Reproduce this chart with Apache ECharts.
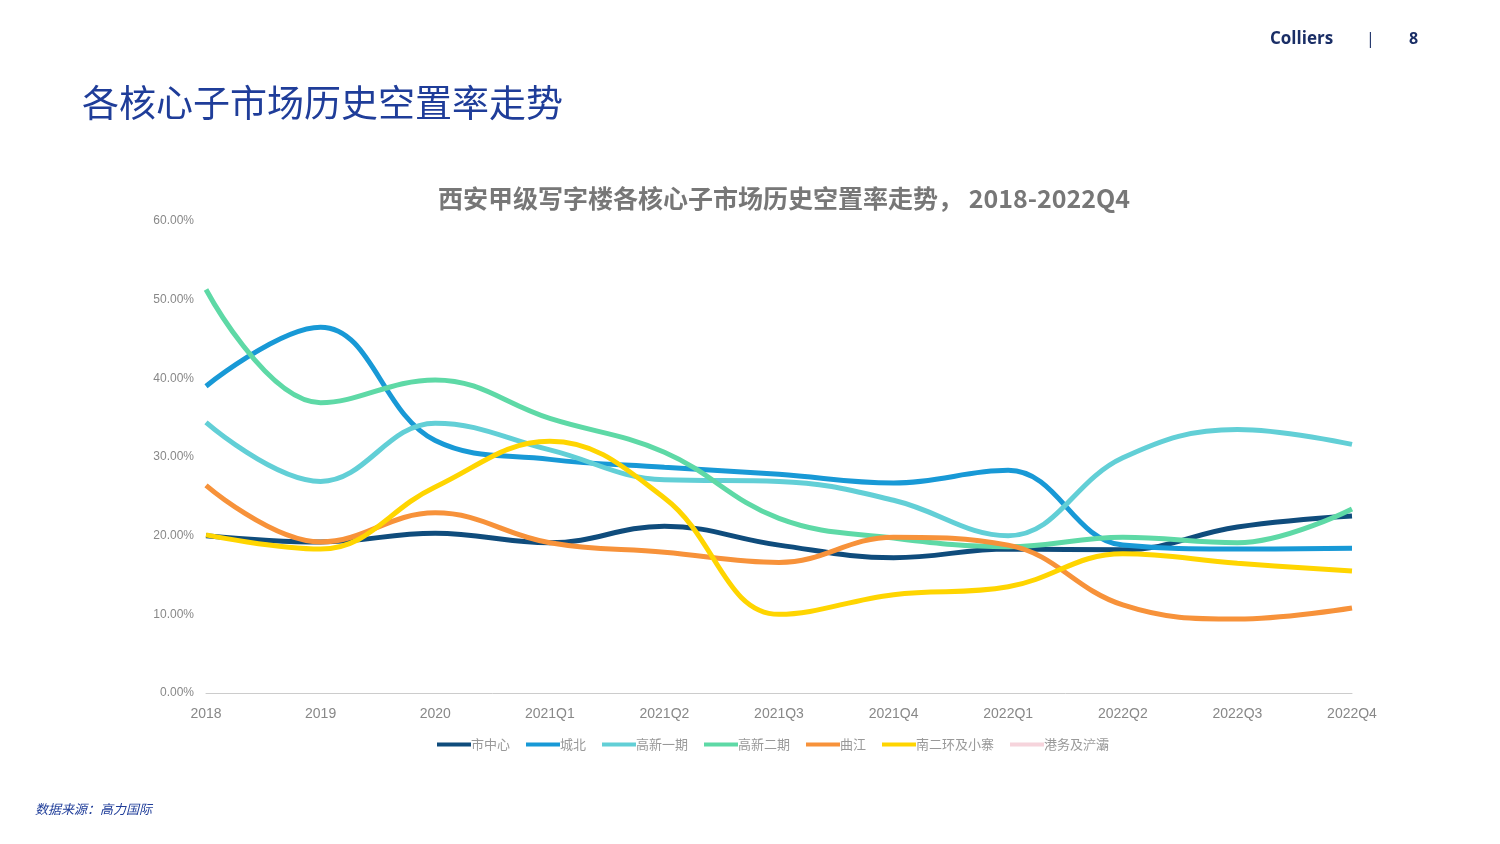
<!DOCTYPE html>
<html><head><meta charset="utf-8">
<script src="https://cdn.jsdelivr.net/npm/echarts@6/dist/echarts.min.js"></script>
<style>body{margin:0;background:#fff}#c{width:1500px;height:844px}</style></head>
<body><div id="c"></div>
<script>
const categories=['2018','2019','2020','2021Q1','2021Q2','2021Q3','2021Q4','2022Q1','2022Q2','2022Q3','2022Q4'];
const cityCenter=[20.0,19.2,20.3,19.1,21.2,18.8,17.2,18.3,18.2,21.1,22.5];
const chengbei=[39.0,46.5,32.1,29.7,28.7,27.8,26.7,28.3,18.8,18.3,18.4];
const gaoxin1=[34.4,26.9,34.3,30.9,27.1,26.9,24.5,20.0,29.9,33.5,31.6];
const gaoxin2=[51.3,36.9,39.8,34.9,30.6,22.2,19.7,18.6,19.8,19.1,23.4];
const qujiang=[26.4,19.2,22.9,19.1,17.9,16.6,19.8,18.8,11.2,9.4,10.8];
const nanerhuan=[20.1,18.3,26.2,32.0,24.8,10.0,12.5,13.5,17.7,16.5,15.5];
const gangwu=[];
const names=['市中心','城北','高新一期','高新二期','曲江','南二环及小寨','港务及浐灞'];
const colors=['#0f4c7c','#1899d6','#62cfd6','#5ed9a6','#f7923a','#ffd500','#f6d4dc'];
const datas=[cityCenter,chengbei,gaoxin1,gaoxin2,qujiang,nanerhuan,gangwu];
const ch=echarts.init(document.getElementById('c'));
ch.setOption({
 color:colors,
 title:[{text:'各核心子市场历史空置率走势',left:77,top:79,textStyle:{fontFamily:'Noto Sans CJK SC',fontSize:37,fontWeight:'normal',color:'#1f3d99'}},
  {text:'西安甲级写字楼各核心子市场历史空置率走势， 2018-2022Q4',left:433,top:181,textStyle:{fontFamily:'Noto Sans CJK SC',fontSize:25,fontWeight:'bold',color:'#777'}}],
 graphic:[
  {type:'text',left:1270,top:31,style:{text:'Colliers',font:'bold 17px "Open Sans"',fill:'#1a2e66'}},
  {type:'text',left:1366,top:31,style:{text:'|',font:'16px "Open Sans"',fill:'#1a2e66'}},
  {type:'text',left:1409,top:31,style:{text:'8',font:'bold 16px "Open Sans"',fill:'#1a2e66'}},
  {type:'text',left:35,top:803,style:{text:'数据来源：高力国际',font:'italic 13px "Noto Sans CJK SC"',fill:'#1f3d99'}}
 ],
 legend:{bottom:88,left:432,itemWidth:34,itemHeight:4,itemGap:16,icon:'rect',textStyle:{color:'#999',fontSize:13,fontFamily:'Noto Sans CJK SC',padding:[0,0,0,-5]},data:names},
 grid:{left:206,right:148,top:221,bottom:151},
 xAxis:{type:'category',data:categories,boundaryGap:false,axisLine:{lineStyle:{color:'#ccc'}},axisTick:{show:false},axisLabel:{color:'#888',fontSize:14,margin:14}},
 yAxis:{type:'value',min:0,max:60,interval:10,splitLine:{show:false},axisLabel:{color:'#888',fontSize:12,margin:12,formatter:v=>v.toFixed(2)+'%'}},
 series:names.map((n,i)=>({name:n,type:'line',smooth:0.4,symbol:'none',data:datas[i],lineStyle:{width:5,color:colors[i]}}))
});
</script></body></html>
